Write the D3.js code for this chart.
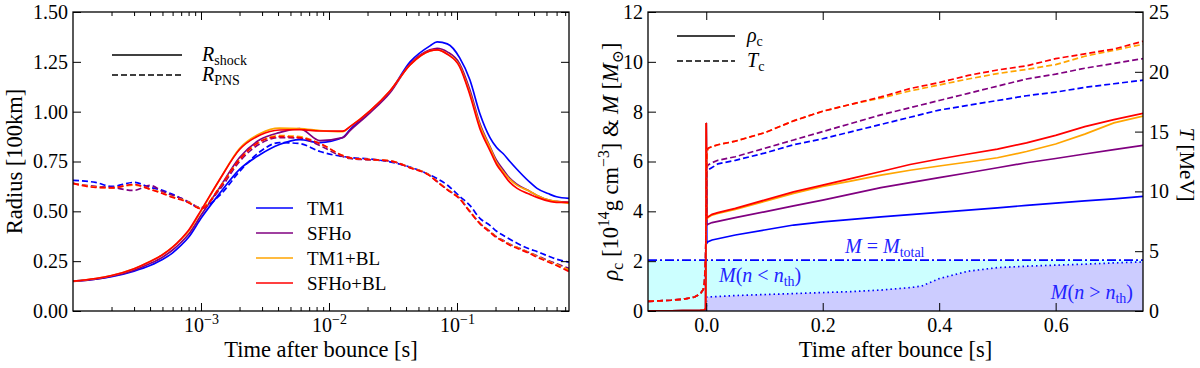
<!DOCTYPE html>
<html lang="en">
<head>
<meta charset="UTF-8">
<title>Shock radius, central density and temperature</title>
<script src="https://d3js.org/d3.v7.min.js"></script>
<style>
    body { margin: 0; background: #fff; }
    svg text { font-family: "Liberation Serif", "DejaVu Serif", serif; fill: #000; }
    .tick line { stroke: #000; stroke-width: 1; }
    .tick text { font-size: 20px; }
    .frame { fill: none; stroke: #000; stroke-width: 1.3; }
    .curve { fill: none; stroke-width: 1.7; }
</style>
</head>
<body>
<svg id="chart" width="1200" height="368"></svg>
<script>
// ---- models ----
const models = ["TM1", "SFHo", "TM1+BL", "SFHo+BL"];
const modelColors = ["#0000ff", "#800080", "#ffa500", "#ff0000"];

// ---- left panel: radii [100 km] vs time after bounce [s] (log) ----
const timeLog = [1e-4, 1.5e-4, 2e-4, 3e-4, 4e-4, 5e-4, 6e-4, 7e-4, 8e-4, 1e-3,
    1.4e-3, 2e-3, 2.9e-3, 4.1e-3, 5.9e-3, 8.5e-3, 0.0128, 0.0146, 0.021, 0.030,
    0.043, 0.0615, 0.070, 0.084, 0.105, 0.126, 0.151, 0.181, 0.204, 0.229,
    0.259, 0.295, 0.372, 0.422, 0.533, 0.600, 0.750];

const shockTM1 = [0.150, 0.160, 0.172, 0.200, 0.228, 0.258, 0.292, 0.330, 0.370, 0.465,
    0.590, 0.710, 0.785, 0.835, 0.860, 0.845, 0.870, 0.910, 1.000, 1.100,
    1.250, 1.330, 1.350, 1.340, 1.270, 1.160, 0.990, 0.870, 0.820, 0.790,
    0.750, 0.710, 0.645, 0.615, 0.585, 0.573, 0.565];
const shockSFHo = [0.148, 0.160, 0.175, 0.205, 0.238, 0.270, 0.306, 0.345, 0.385, 0.480,
    0.620, 0.770, 0.860, 0.895, 0.915, 0.855, 0.870, 0.905, 0.995, 1.095,
    1.240, 1.310, 1.318, 1.300, 1.240, 1.110, 0.940, 0.825, 0.755, 0.710,
    0.665, 0.635, 0.600, 0.580, 0.555, 0.550, 0.545];
const shockTM1BL = [0.150, 0.163, 0.178, 0.212, 0.248, 0.282, 0.320, 0.360, 0.400, 0.500,
    0.660, 0.815, 0.890, 0.917, 0.915, 0.905, 0.900, 0.925, 1.005, 1.105,
    1.235, 1.305, 1.310, 1.290, 1.230, 1.095, 0.930, 0.820, 0.745, 0.700,
    0.660, 0.630, 0.600, 0.580, 0.555, 0.550, 0.540];
const shockSFHoBL = [0.150, 0.163, 0.178, 0.212, 0.248, 0.282, 0.320, 0.362, 0.405, 0.505,
    0.660, 0.810, 0.883, 0.908, 0.910, 0.903, 0.902, 0.925, 1.005, 1.105,
    1.235, 1.305, 1.310, 1.288, 1.225, 1.085, 0.915, 0.805, 0.735, 0.690,
    0.645, 0.615, 0.585, 0.570, 0.550, 0.545, 0.545];

const pnsTM1 = [0.655, 0.645, 0.625, 0.645, 0.620, 0.605, 0.585, 0.565, 0.545, 0.515,
    0.580, 0.700, 0.800, 0.845, 0.840, 0.800, 0.775, 0.770, 0.762, 0.748,
    0.722, 0.682, 0.664, 0.632, 0.575, 0.530, 0.465, 0.430, 0.400, 0.380,
    0.360, 0.340, 0.310, 0.298, 0.272, 0.260, 0.245];
const pnsSFHo = [0.640, 0.625, 0.620, 0.605, 0.630, 0.600, 0.580, 0.565, 0.548, 0.518,
    0.610, 0.750, 0.840, 0.870, 0.868, 0.830, 0.775, 0.765, 0.758, 0.752,
    0.720, 0.680, 0.650, 0.610, 0.565, 0.500, 0.440, 0.400, 0.372, 0.355,
    0.335, 0.320, 0.292, 0.277, 0.250, 0.237, 0.214];
const pnsTM1BL = [0.640, 0.622, 0.618, 0.632, 0.612, 0.592, 0.572, 0.560, 0.545, 0.515,
    0.620, 0.760, 0.850, 0.880, 0.875, 0.840, 0.780, 0.768, 0.760, 0.753,
    0.720, 0.680, 0.650, 0.610, 0.565, 0.500, 0.440, 0.398, 0.370, 0.352,
    0.333, 0.318, 0.290, 0.274, 0.246, 0.233, 0.206];
const pnsSFHoBL = [0.640, 0.620, 0.618, 0.635, 0.610, 0.590, 0.570, 0.558, 0.543, 0.513,
    0.620, 0.760, 0.850, 0.875, 0.870, 0.840, 0.780, 0.768, 0.760, 0.753,
    0.718, 0.678, 0.648, 0.608, 0.562, 0.498, 0.438, 0.395, 0.368, 0.350,
    0.330, 0.315, 0.287, 0.270, 0.242, 0.228, 0.198];

const radiusTicks = [0, 0.25, 0.5, 0.75, 1.0, 1.25, 1.5];
const logMajorTicks = [1e-3, 1e-2, 1e-1];

// ---- right panel: central density / mass (left axis), temperature (right axis) ----
const preTime = [-0.1, -0.08, -0.06, -0.04, -0.027, -0.02, -0.01, -0.005, -0.003, -0.001];
const preRho = [0.01, 0.01, 0.01, 0.02, 0.02, 0.02, 0.03, 0.04, 0.05, 0.08];
const preTemp = [0.81, 0.85, 0.90, 0.98, 1.10, 1.17, 1.45, 1.80, 2.40, 4.50];
const bounceTime = 0.0;
const bounceRho = 7.55;

const timeLin = [0.001, 0.003, 0.01, 0.02, 0.05, 0.1, 0.15, 0.2, 0.25, 0.3,
    0.35, 0.4, 0.45, 0.5, 0.55, 0.6, 0.65, 0.7, 0.75];

const rhoTM1 = [2.72, 2.78, 2.85, 2.90, 3.05, 3.25, 3.45, 3.58, 3.68, 3.78,
    3.87, 3.96, 4.05, 4.14, 4.24, 4.33, 4.42, 4.50, 4.60];
const rhoSFHo = [3.45, 3.48, 3.55, 3.60, 3.75, 3.98, 4.22, 4.45, 4.70, 4.95,
    5.15, 5.35, 5.55, 5.75, 5.95, 6.12, 6.30, 6.48, 6.65];
const rhoTM1BL = [3.70, 3.75, 3.85, 3.92, 4.08, 4.40, 4.72, 5.00, 5.22, 5.45,
    5.65, 5.82, 5.98, 6.15, 6.40, 6.70, 7.10, 7.55, 7.82];
const rhoSFHoBL = [3.72, 3.78, 3.88, 3.95, 4.12, 4.45, 4.78, 5.05, 5.32, 5.60,
    5.88, 6.10, 6.30, 6.50, 6.75, 7.05, 7.40, 7.68, 7.93];

const tempTM1 = [11.6, 11.8, 12.0, 12.3, 12.6, 13.2, 13.9, 14.4, 15.0, 15.6,
    16.2, 16.8, 17.2, 17.6, 18.0, 18.3, 18.7, 19.0, 19.3];
const tempSFHo = [12.0, 12.2, 12.4, 12.6, 12.9, 13.6, 14.3, 15.0, 15.7, 16.4,
    17.0, 17.6, 18.2, 18.8, 19.4, 19.8, 20.3, 20.7, 21.1];
const tempTM1BL = [13.3, 13.6, 13.75, 13.9, 14.2, 14.9, 15.9, 16.7, 17.3, 17.8,
    18.4, 18.9, 19.4, 19.85, 20.2, 20.6, 21.3, 21.8, 22.3];
const tempSFHoBL = [13.3, 13.6, 13.75, 13.9, 14.2, 14.9, 15.9, 16.7, 17.3, 17.9,
    18.6, 19.1, 19.7, 20.15, 20.5, 21.1, 21.5, 21.9, 22.55];

const massTime = [0.0, 0.0005, 0.05, 0.1, 0.15, 0.2, 0.25, 0.3, 0.35, 0.37,
    0.4, 0.45, 0.5, 0.55, 0.6, 0.65, 0.7, 0.75];
const massHigh = [0.0, 0.56, 0.62, 0.66, 0.70, 0.74, 0.78, 0.84, 0.94, 1.00,
    1.30, 1.60, 1.74, 1.80, 1.84, 1.88, 1.93, 1.97];
const massTotal = 2.04;

const timeLinTicks = [0.0, 0.2, 0.4, 0.6];
const rhoTicks = [0, 2, 4, 6, 8, 10, 12];
const tempTicks = [0, 5, 10, 15, 20, 25];

const shockSeries = [shockTM1, shockSFHo, shockTM1BL, shockSFHoBL];
const pnsSeries = [pnsTM1, pnsSFHo, pnsTM1BL, pnsSFHoBL];
const rhoSeries = [rhoTM1, rhoSFHo, rhoTM1BL, rhoSFHoBL];
const tempSeries = [tempTM1, tempSFHo, tempTM1BL, tempSFHoBL];

const svg = d3.select("#chart");

// text with italic / sub / sup pieces
function richText(sel, parts, size) {
    let shift = 0;
    parts.forEach(([str, kind]) => {
        const small = kind === "sub" || kind === "sup";
        const target = kind === "sub" ? 0.22 * size : kind === "sup" ? -0.4 * size : 0;
        const ts = sel.append("tspan").text(str)
            .attr("dy", target - shift)
            .style("font-size", (small ? 0.7 * size : size) + "px");
        if (kind === "i") ts.style("font-style", "italic");
        shift = target;
    });
    return sel;
}

function noDomain(g) { g.select(".domain").remove(); }

function drawLeft() {
    const box = { left: 73, right: 569, top: 12, bottom: 311 };
    const x = d3.scaleLog().domain([1e-4, 0.75]).range([box.left, box.right]);
    const y = d3.scaleLinear().domain([0, 1.5]).range([box.bottom, box.top]);

    svg.append("clipPath").attr("id", "clipL").append("rect")
        .attr("x", box.left).attr("y", box.top)
        .attr("width", box.right - box.left).attr("height", box.bottom - box.top);

    const line = (vals) => d3.line().curve(d3.curveMonotoneX)
        .x((d, i) => x(timeLog[i])).y(d => y(d))(vals);

    const g = svg.append("g").attr("clip-path", "url(#clipL)");
    models.forEach((m, i) => {
        g.append("path").attr("class", "curve").attr("d", line(shockSeries[i]))
            .attr("stroke", modelColors[i]);
        g.append("path").attr("class", "curve").attr("d", line(pnsSeries[i]))
            .attr("stroke", modelColors[i]).attr("stroke-dasharray", "6,3");
    });

    // minor log ticks
    const minor = [];
    [-4, -3, -2, -1].forEach(e => {
        for (let k = 2; k <= 9; k++) {
            const v = k * Math.pow(10, e);
            if (v <= 0.75) minor.push(v);
        }
    });

    svg.append("g").attr("transform", `translate(0,${box.bottom})`)
        .call(d3.axisBottom(x).tickValues(minor).tickFormat("").tickSizeInner(-4).tickSizeOuter(0))
        .call(noDomain);
    svg.append("g").attr("transform", `translate(0,${box.top})`)
        .call(d3.axisTop(x).tickValues(minor).tickFormat("").tickSizeInner(-4).tickSizeOuter(0))
        .call(noDomain);
    svg.append("g").attr("transform", `translate(0,${box.top})`)
        .call(d3.axisTop(x).tickValues(logMajorTicks).tickFormat("").tickSizeInner(-8).tickSizeOuter(0))
        .call(noDomain);
    const xb = svg.append("g").attr("transform", `translate(0,${box.bottom})`)
        .call(d3.axisBottom(x).tickValues(logMajorTicks).tickFormat("").tickSizeInner(-8).tickSizeOuter(0))
        .call(noDomain);
    xb.selectAll(".tick text").each(function(d) {
        const e = Math.round(Math.log10(d));
        const t = d3.select(this).text("").attr("dy", null).attr("y", 21);
        richText(t, [["10", "r"], ["\u2212" + Math.abs(e), "sup"]], 20);
    });

    svg.append("g").attr("transform", `translate(${box.left},0)`)
        .call(d3.axisLeft(y).tickValues(radiusTicks).tickFormat(d3.format(".2f")).tickSizeInner(-8).tickSizeOuter(0).tickPadding(5))
        .call(noDomain);
    svg.append("g").attr("transform", `translate(${box.right},0)`)
        .call(d3.axisRight(y).tickValues(radiusTicks).tickFormat("").tickSizeInner(-8).tickSizeOuter(0))
        .call(noDomain);

    svg.append("rect").attr("class", "frame")
        .attr("x", box.left).attr("y", box.top)
        .attr("width", box.right - box.left).attr("height", box.bottom - box.top);

    // axis labels
    svg.append("text").attr("x", (box.left + box.right) / 2).attr("y", 357)
        .attr("text-anchor", "middle").style("font-size", "22.5px")
        .text("Time after bounce [s]");
    svg.append("text").attr("transform", `translate(22,${(box.top + box.bottom) / 2}) rotate(-90)`)
        .attr("text-anchor", "middle").style("font-size", "22.5px")
        .text("Radius [100km]");

    // line style legend
    const styleLeg = [["shock", null], ["PNS", "6,3"]];
    styleLeg.forEach(([sub, dash], i) => {
        const yy = 55 + i * 20;
        svg.append("line").attr("x1", 112).attr("x2", 182).attr("y1", yy).attr("y2", yy)
            .attr("stroke", "#000").attr("stroke-width", 1.7).attr("stroke-dasharray", dash);
        richText(svg.append("text").attr("x", 202).attr("y", yy + 6),
            [["R", "i"], [sub, "sub"]], 20);
    });

    // model legend
    models.forEach((m, i) => {
        const yy = 208 + i * 25;
        svg.append("line").attr("x1", 256).attr("x2", 293).attr("y1", yy).attr("y2", yy)
            .attr("stroke", modelColors[i]).attr("stroke-width", 1.7);
        svg.append("text").attr("x", 307).attr("y", yy + 6.5)
            .style("font-size", "19px").text(m);
    });
}

function drawRight() {
    const box = { left: 648, right: 1143, top: 12, bottom: 311 };
    const x = d3.scaleLinear().domain([-0.1, 0.75]).range([box.left, box.right]);
    const y = d3.scaleLinear().domain([0, 12]).range([box.bottom, box.top]);
    const yT = d3.scaleLinear().domain([0, 25]).range([box.bottom, box.top]);

    svg.append("clipPath").attr("id", "clipR").append("rect")
        .attr("x", box.left).attr("y", box.top)
        .attr("width", box.right - box.left).attr("height", box.bottom - box.top);
    const g = svg.append("g").attr("clip-path", "url(#clipR)");

    // total mass band and high-density mass
    const edges = x.domain();
    g.append("path").attr("fill", "#ccffff")
        .attr("d", d3.area().x(d => x(d)).y0(y(0)).y1(y(massTotal))(edges));
    const massPts = massTime.map((t, i) => [t, massHigh[i]]);
    g.append("path").attr("fill", "#ccccff")
        .attr("d", d3.area().x(d => x(d[0])).y0(y(0)).y1(d => y(d[1]))(massPts));
    g.append("path").attr("class", "curve").attr("stroke", "#0000ff")
        .attr("stroke-width", 1.6).attr("stroke-dasharray", "1.5,3")
        .attr("d", d3.line().x(d => x(d[0])).y(d => y(d[1]))(massPts));
    g.append("path").attr("class", "curve").attr("stroke", "#0000ff")
        .attr("stroke-width", 1.6).attr("stroke-dasharray", "9,3,2,3")
        .attr("d", d3.line().x(d => x(d)).y(y(massTotal))(edges));

    const rhoTime = preTime.concat([bounceTime], timeLin);
    const tempTime = preTime.concat(timeLin);
    models.forEach((m, i) => {
        const rhoVals = preRho.concat([bounceRho], rhoSeries[i]);
        g.append("path").attr("class", "curve").attr("stroke", modelColors[i])
            .attr("d", d3.line().x((d, k) => x(rhoTime[k])).y(d => y(d))(rhoVals));
    });
    models.forEach((m, i) => {
        const tVals = preTemp.concat(tempSeries[i]);
        g.append("path").attr("class", "curve").attr("stroke", modelColors[i])
            .attr("stroke-dasharray", "6,3")
            .attr("d", d3.line().x((d, k) => x(tempTime[k])).y(d => yT(d))(tVals));
    });

    // axes
    svg.append("g").attr("transform", `translate(0,${box.bottom})`)
        .call(d3.axisBottom(x).tickValues(timeLinTicks).tickFormat(d3.format(".1f")).tickSizeInner(-8).tickSizeOuter(0).tickPadding(6.5))
        .call(noDomain);
    svg.append("g").attr("transform", `translate(0,${box.top})`)
        .call(d3.axisTop(x).tickValues(timeLinTicks).tickFormat("").tickSizeInner(-8).tickSizeOuter(0))
        .call(noDomain);
    svg.append("g").attr("transform", `translate(${box.left},0)`)
        .call(d3.axisLeft(y).tickValues(rhoTicks).tickFormat(d3.format("d")).tickSizeInner(-8).tickSizeOuter(0).tickPadding(5))
        .call(noDomain);
    svg.append("g").attr("transform", `translate(${box.right},0)`)
        .call(d3.axisRight(yT).tickValues(tempTicks).tickFormat(d3.format("d")).tickSizeInner(-8).tickSizeOuter(0).tickPadding(6))
        .call(noDomain);

    svg.append("rect").attr("class", "frame")
        .attr("x", box.left).attr("y", box.top)
        .attr("width", box.right - box.left).attr("height", box.bottom - box.top);

    // annotations
    richText(svg.append("text").attr("x", 845).attr("y", 253).style("fill", "#2222ff"),
        [["M", "i"], [" = ", "r"], ["M", "i"], ["total", "sub"]], 20);
    richText(svg.append("text").attr("x", 719).attr("y", 282).style("fill", "#2222ff"),
        [["M", "i"], ["(", "r"], ["n", "i"], [" < ", "r"], ["n", "i"], ["th", "sub"], [")", "r"]], 20);
    richText(svg.append("text").attr("x", 1133).attr("y", 299).attr("text-anchor", "end").style("fill", "#2222ff"),
        [["M", "i"], ["(", "r"], ["n", "i"], [" > ", "r"], ["n", "i"], ["th", "sub"], [")", "r"]], 20);

    // axis labels
    svg.append("text").attr("x", (box.left + box.right) / 2).attr("y", 357)
        .attr("text-anchor", "middle").style("font-size", "22.5px")
        .text("Time after bounce [s]");
    richText(svg.append("text").attr("transform", `translate(618,${(box.top + box.bottom) / 2}) rotate(-90)`)
        .attr("text-anchor", "middle"),
        [["\u03c1", "i"], ["c", "sub"], [" [10", "r"], ["14", "sup"], ["g cm", "r"], ["\u22123", "sup"], ["] & ", "r"],
         ["M", "i"], [" [", "r"], ["M", "i"], ["\u2299", "sub"], ["]", "r"]], 22.5);
    richText(svg.append("text").attr("transform", `translate(1180,${(box.top + box.bottom) / 2 + 3}) rotate(90)`)
        .attr("text-anchor", "middle"),
        [["T", "i"], [" [MeV]", "r"]], 21);

    // line style legend
    const styleLeg = [["\u03c1", null], ["T", "6,3"]];
    styleLeg.forEach(([sym, dash], i) => {
        const yy = 36 + i * 25;
        svg.append("line").attr("x1", 677).attr("x2", 735).attr("y1", yy).attr("y2", yy)
            .attr("stroke", "#000").attr("stroke-width", 1.7).attr("stroke-dasharray", dash);
        richText(svg.append("text").attr("x", 747).attr("y", yy + 6),
            [[sym, "i"], ["c", "sub"]], 20);
    });
}

drawLeft();
drawRight();
</script>
</body>
</html>
